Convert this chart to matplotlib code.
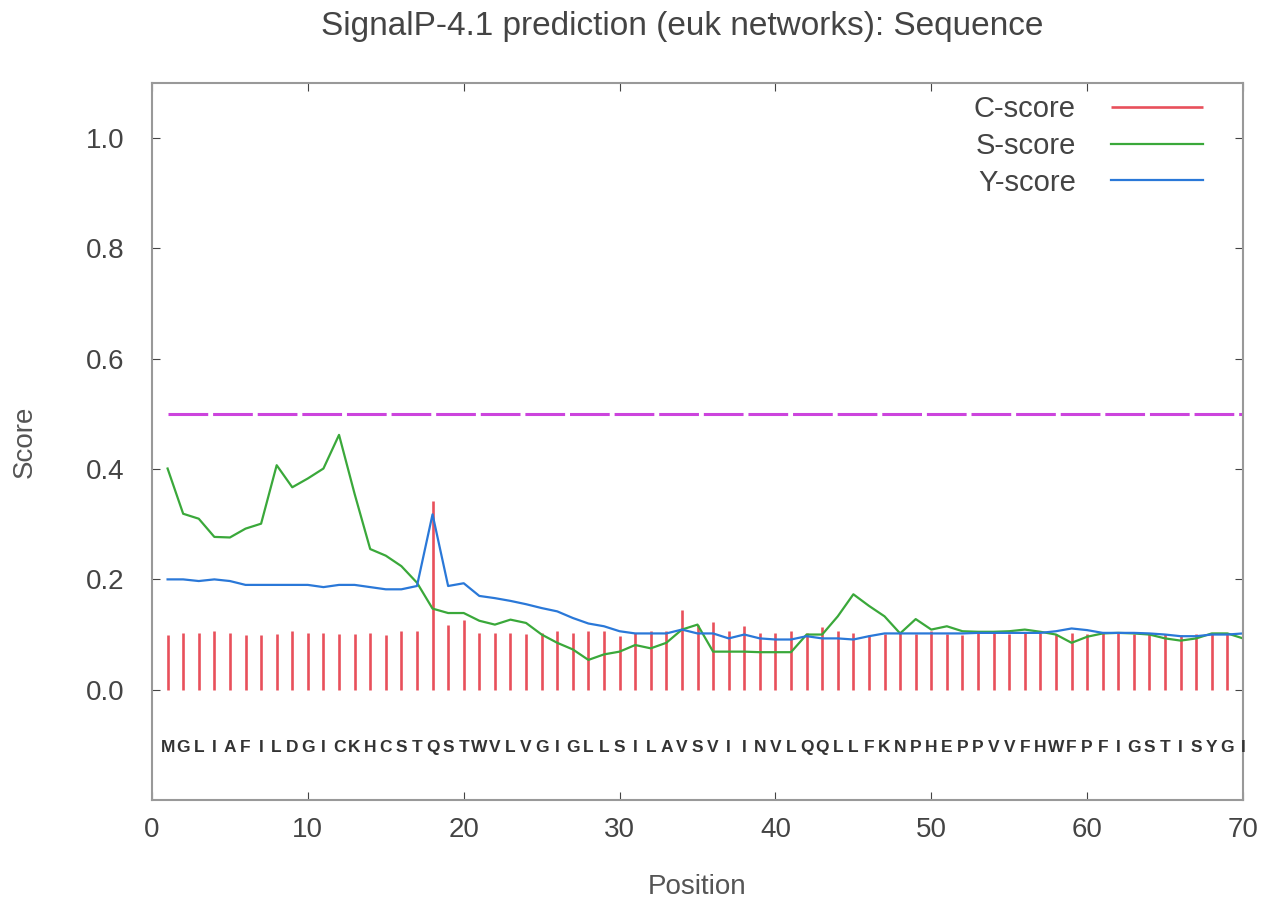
import matplotlib
matplotlib.use("Agg")
import matplotlib.pyplot as plt
import numpy as np

plt.rcParams['font.family'] = ['Liberation Sans', 'DejaVu Sans']

sequence = "MGLIAFILDGICKHCSTQSTWVLVGIGLLSILAVSVIINVLQQLLFKNPHEPPVVFHWFPFIGSTISYGI"

c_score = [0.100, 0.103, 0.103, 0.106, 0.103, 0.100, 0.100, 0.101, 0.106, 0.103,
           0.103, 0.101, 0.101, 0.103, 0.100, 0.106, 0.106, 0.343, 0.118, 0.127,
           0.103, 0.103, 0.103, 0.101, 0.103, 0.107, 0.103, 0.107, 0.107, 0.097,
           0.103, 0.106, 0.106, 0.145, 0.118, 0.123, 0.106, 0.115, 0.103, 0.103,
           0.106, 0.103, 0.113, 0.107, 0.103, 0.100, 0.101, 0.103, 0.101, 0.106,
           0.101, 0.100, 0.103, 0.103, 0.101, 0.103, 0.103, 0.101, 0.103, 0.101,
           0.103, 0.103, 0.101, 0.103, 0.101, 0.100, 0.101, 0.103, 0.101, 0.100]

s_score = [0.401, 0.319, 0.310, 0.277, 0.276, 0.292, 0.301, 0.407, 0.367, 0.383,
           0.401, 0.462, 0.355, 0.255, 0.243, 0.224, 0.194, 0.147, 0.139, 0.139,
           0.125, 0.118, 0.127, 0.121, 0.100, 0.085, 0.073, 0.054, 0.064, 0.069,
           0.081, 0.075, 0.085, 0.109, 0.118, 0.069, 0.069, 0.069, 0.068, 0.068,
           0.068, 0.100, 0.100, 0.133, 0.173, 0.152, 0.133, 0.102, 0.128, 0.109,
           0.115, 0.106, 0.105, 0.105, 0.106, 0.109, 0.105, 0.100, 0.085, 0.096,
           0.102, 0.103, 0.102, 0.100, 0.093, 0.089, 0.093, 0.102, 0.102, 0.093]

y_score = [0.200, 0.200, 0.197, 0.200, 0.197, 0.190, 0.190, 0.190, 0.190, 0.190,
           0.186, 0.190, 0.190, 0.186, 0.182, 0.182, 0.188, 0.318, 0.188, 0.193,
           0.170, 0.166, 0.161, 0.155, 0.148, 0.142, 0.130, 0.120, 0.115, 0.106,
           0.102, 0.102, 0.102, 0.109, 0.102, 0.102, 0.093, 0.100, 0.093, 0.091,
           0.091, 0.097, 0.093, 0.093, 0.091, 0.097, 0.102, 0.102, 0.102, 0.102,
           0.102, 0.102, 0.103, 0.103, 0.103, 0.103, 0.103, 0.106, 0.111, 0.108,
           0.103, 0.103, 0.103, 0.102, 0.100, 0.097, 0.097, 0.100, 0.100, 0.102]

cutoff = 0.5
positions = np.arange(1, len(sequence) + 1)

fig = plt.figure(figsize=(12.7, 9.05), dpi=100)
ax = fig.add_axes([152 / 1270, 105 / 905, 1091 / 1270, 717 / 905])

ax.vlines(positions, 0, c_score, colors='#e8505b', linewidth=1.9, label='C-score')
ax.plot(positions, s_score, color='#3aa83a', linewidth=1.6, label='S-score')
ax.plot(positions, y_score, color='#2a78d8', linewidth=1.6, label='Y-score')
ax.plot([positions[0], positions[-1]], [cutoff, cutoff], color='#cc44dd',
        linewidth=2.2, dashes=(13, 1.6))

for p, aa in zip(positions, sequence):
    ax.text(p, -0.104, aa, ha='center', va='center', fontsize=12.5,
            fontweight='bold', color='#333333')

ax.set_xlim(0, 70)
ax.set_ylim(-0.2, 1.1)
ax.set_xticks(range(0, 71, 10))
ax.set_yticks([0.0, 0.2, 0.4, 0.6, 0.8, 1.0])
ax.set_yticklabels(['0.0', '0.2', '0.4', '0.6', '0.8', '1.0'])
ax.tick_params(direction='in', top=True, right=True, length=6, labelsize=20,
               colors='#444444')
ax.tick_params(axis='x', pad=12)
ax.tick_params(axis='y', pad=20)
for s in ax.spines.values():
    s.set_color('#999999')
    s.set_linewidth(1.5)

ax.set_xlabel('Position', fontsize=20, color='#555555')
ax.set_ylabel('Score', fontsize=20, color='#555555')
ax.xaxis.set_label_coords(0.5, -0.103)
ax.yaxis.set_label_coords(-0.105, 0.5)
fig.text(682 / 1270, 1 - 27 / 905, 'SignalP-4.1 prediction (euk networks): Sequence',
         ha='center', va='center', fontsize=24, color='#444444')

leg = ax.legend(loc='upper right', frameon=False, markerfirst=False, fontsize=21,
                handlelength=3.15, handletextpad=1.2, labelspacing=0.3,
                borderaxespad=0, borderpad=0, bbox_to_anchor=(0.963, 0.983))
for t in leg.get_texts():
    t.set_color('#444444')

fig.savefig('out.png', dpi=100)
